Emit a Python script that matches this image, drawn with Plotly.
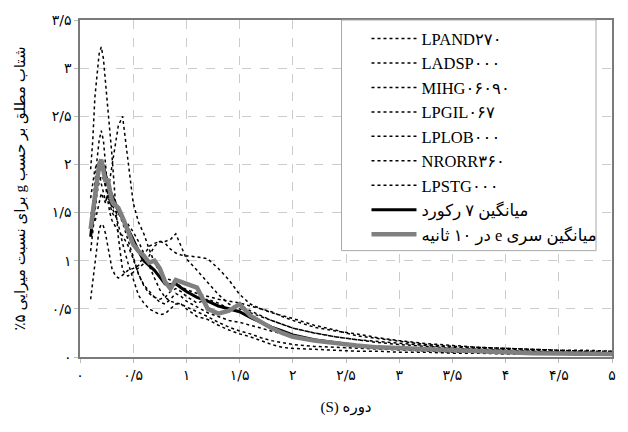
import plotly.graph_objects as go

# Period (s)
period = [0.10, 0.12, 0.14, 0.16, 0.18, 0.20, 0.22, 0.24, 0.26, 0.28, 0.30,
          0.33, 0.36, 0.40,
          0.45, 0.50, 0.55, 0.60, 0.65, 0.70, 0.75, 0.80, 0.85, 0.90, 0.95, 1.00,
          1.1, 1.2, 1.3, 1.4, 1.5, 1.6, 1.7, 1.8, 1.9, 2.0,
          2.2, 2.4, 2.6, 2.8, 3.0,
          3.25, 3.5, 3.75, 4.0, 4.25, 4.5, 4.75, 5.0]

lpand270 = [1.95, 2.25, 2.7, 2.95, 3.15, 3.22, 3.1, 2.85, 2.6, 2.4, 2.1,
            1.65, 1.25, 0.9,
            0.84, 0.88, 0.93, 0.97, 1.05, 1.15, 1.2, 1.2, 1.22, 1.28, 1.15, 1.02,
            0.9, 0.78, 0.65, 0.55, 0.5, 0.46, 0.42, 0.38, 0.34, 0.3,
            0.25, 0.21, 0.18, 0.15, 0.13,
            0.11, 0.09, 0.08, 0.07, 0.06, 0.05, 0.05, 0.04]
ladsp000 = [1.5, 1.45, 1.4, 1.5, 1.6, 1.7, 1.65, 1.6, 1.7, 1.85, 2.0,
            2.2, 2.4, 2.5,
            2.05, 1.6, 1.4, 1.28, 1.12, 0.98, 0.88, 0.82, 0.8, 0.77, 0.73, 0.7,
            0.66, 0.63, 0.6, 0.58, 0.56, 0.53, 0.5, 0.47, 0.42, 0.38,
            0.31, 0.27, 0.24, 0.2, 0.17,
            0.14, 0.12, 0.1, 0.09, 0.08, 0.07, 0.06, 0.06]
mihg06090 = [1.35, 1.55, 1.8, 2.05, 2.25, 2.35, 2.25, 2.0, 1.75, 1.6, 1.5,
             1.45, 1.5, 1.4,
             1.22, 1.02, 0.86, 0.75, 0.68, 0.62, 0.57, 0.55, 0.6, 0.66, 0.63, 0.58,
             0.52, 0.46, 0.42, 0.38, 0.36, 0.33, 0.3, 0.27, 0.24, 0.21,
             0.17, 0.14, 0.12, 0.1, 0.09,
             0.08, 0.07, 0.06, 0.05, 0.05, 0.04, 0.04, 0.03]
lpgil067 = [0.6, 0.8, 1.0, 1.2, 1.33, 1.38, 1.36, 1.28, 1.15, 1.02, 0.92,
            0.85, 0.82, 0.85,
            0.9, 0.92, 0.95, 1.05, 1.15, 1.18, 1.2, 1.18, 1.12, 1.08, 1.06, 1.05,
            1.04, 1.02, 0.92, 0.8, 0.65, 0.55, 0.5, 0.46, 0.43, 0.4,
            0.33, 0.28, 0.22, 0.19, 0.16,
            0.13, 0.11, 0.1, 0.09, 0.08, 0.07, 0.07, 0.06]
lplob000 = [1.65, 1.8, 1.95, 2.0, 1.92, 1.8, 1.7, 1.62, 1.66, 1.62, 1.55,
            1.48, 1.38, 1.18,
            0.98, 0.8, 0.64, 0.56, 0.5, 0.47, 0.44, 0.45, 0.5, 0.55, 0.55, 0.5,
            0.42, 0.39, 0.33, 0.28, 0.24, 0.21, 0.17, 0.13, 0.1, 0.09,
            0.08, 0.07, 0.06, 0.06, 0.05,
            0.05, 0.04, 0.04, 0.03, 0.03, 0.03, 0.02, 0.02]
nrorr360 = [1.25, 1.4, 1.62, 1.82, 1.97, 2.05, 1.92, 1.76, 1.62, 1.5, 1.42,
            1.36, 1.3, 1.26,
            1.16, 1.02, 0.86, 0.74, 0.66, 0.62, 0.6, 0.62, 0.68, 0.71, 0.68, 0.63,
            0.56, 0.6, 0.56, 0.5, 0.54, 0.48, 0.43, 0.38, 0.34, 0.3,
            0.25, 0.21, 0.18, 0.16, 0.14,
            0.12, 0.1, 0.09, 0.08, 0.07, 0.06, 0.06, 0.05]
lpstg000 = [1.1, 1.3, 1.5, 1.7, 1.82, 1.88, 1.85, 1.78, 1.7, 1.62, 1.58,
            1.52, 1.48, 1.45,
            1.38, 1.3, 1.2, 1.08, 0.95, 0.82, 0.7, 0.62, 0.58, 0.56, 0.55, 0.52,
            0.47, 0.42, 0.36, 0.31, 0.27, 0.24, 0.2, 0.17, 0.15, 0.13,
            0.11, 0.1, 0.09, 0.08, 0.07,
            0.06, 0.05, 0.05, 0.04, 0.04, 0.03, 0.03, 0.03]
mean_7 = [1.25, 1.45, 1.65, 1.82, 1.95, 2.03, 1.98, 1.88, 1.8, 1.73, 1.67,
          1.6, 1.52, 1.44,
          1.33, 1.22, 1.1, 1.0, 0.95, 0.9, 0.83, 0.76, 0.75, 0.76, 0.72, 0.68,
          0.62, 0.58, 0.53, 0.5, 0.47, 0.41, 0.36, 0.31, 0.27, 0.23,
          0.18, 0.15, 0.12, 0.1, 0.09,
          0.08, 0.07, 0.06, 0.05, 0.04, 0.04, 0.03, 0.03]
mean_e10 = [1.33, 1.5, 1.7, 1.88, 2.0, 2.05, 1.95, 1.82, 1.85, 1.7, 1.62,
            1.58, 1.55, 1.45,
            1.3, 1.17, 1.1, 1.05, 0.98, 1.0, 0.92, 0.78, 0.71, 0.8, 0.78, 0.76,
            0.72, 0.5, 0.45, 0.48, 0.55, 0.43, 0.36, 0.3, 0.25, 0.21,
            0.17, 0.14, 0.12, 0.1, 0.09,
            0.08, 0.07, 0.06, 0.05, 0.04, 0.04, 0.03, 0.03]

RLE, PDF = "\u202b", "\u202c"   # right-to-left embedding for Persian text
record_names = ["LPAND۲۷۰", "LADSP۰۰۰", "MIHG۰۶۰۹۰", "LPGIL۰۶۷", "LPLOB۰۰۰", "NRORR۳۶۰", "LPSTG۰۰۰"]
record_values = [lpand270, ladsp000, mihg06090, lpgil067, lplob000, nrorr360, lpstg000]
mean_names = [RLE + "میانگین ۷ رکورد" + PDF, RLE + "میانگین سری e در ۱۰ ثانیه" + PDF]

x_tickvals = [0, 0.5, 1, 1.5, 2, 2.5, 3, 3.5, 4, 4.5, 5]
x_ticktext = ["۰", "۰/۵", "۱", "۱/۵", "۲", "۲/۵", "۳", "۳/۵", "۴", "۴/۵", "۵"]
y_tickvals = [0, 0.5, 1, 1.5, 2, 2.5, 3, 3.5]
y_ticktext = ["۰", "۰/۵", "۱", "۱/۵", "۲", "۲/۵", "۳", "۳/۵"]

x_title = RLE + "دوره (S)" + PDF
y_title = RLE + "شتاب مطلق بر حسب g برای نسبت میرایی ۵٪" + PDF

FONT = "Liberation Serif, DejaVu Sans"
AFONT = "DejaVu Sans"

fig = go.Figure()
for name, vals in zip(record_names, record_values):
    fig.add_trace(go.Scatter(x=period, y=vals, mode="lines", name=name,
                             line=dict(color="black", width=1.5, dash="3px,3px")))
fig.add_trace(go.Scatter(x=period, y=mean_7, mode="lines", name=mean_names[0],
                         line=dict(color="black", width=3)))
fig.add_trace(go.Scatter(x=period, y=mean_e10, mode="lines", name=mean_names[1],
                         line=dict(color="#808080", width=4.5)))

axis_common = dict(showgrid=True, gridcolor="#cccccc", griddash="dash", gridwidth=1,
                   showline=True, linecolor="#7a7a7a", linewidth=1.5, mirror=True,
                   ticks="outside", ticklen=4, tickcolor="#bbbbbb", zeroline=False,
                   tickfont=dict(family=AFONT, size=14, color="black"))

fig.update_layout(
    width=628, height=432,
    margin=dict(l=80, r=15, t=18, b=75),
    paper_bgcolor="white", plot_bgcolor="white",
    xaxis=dict(range=[0, 5], tickvals=x_tickvals, ticktext=x_ticktext,
               title=dict(text=x_title, font=dict(family=FONT, size=15, color="black"), standoff=20),
               **axis_common),
    yaxis=dict(range=[0, 3.5], tickvals=y_tickvals, ticktext=y_ticktext,
               title=dict(text=y_title, font=dict(family=FONT, size=15, color="black"), standoff=22),
               **axis_common),
    legend=dict(x=0.5385, y=0.996, xanchor="left", yanchor="top",
                bgcolor="rgba(0,0,0,0)", borderwidth=0, itemwidth=45,
                font=dict(family=FONT, size=16.5, color="black")),
    shapes=[dict(type="rect", xref="paper", yref="paper", x0=0.4916, x1=0.970, y0=0.3156, y1=1.0,
                 fillcolor="white", line=dict(color="#a8a8a8", width=1), layer="above")],
)

fig.write_html("out.html")
